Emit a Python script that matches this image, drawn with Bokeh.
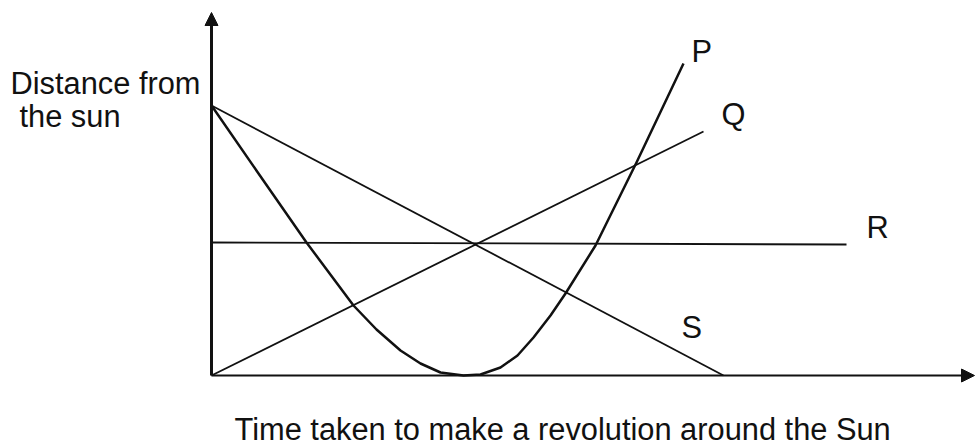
from bokeh.plotting import figure
from bokeh.models import Range1d, Arrow, NormalHead, Label
from bokeh.embed import file_html
from bokeh.resources import INLINE

# ---- data (time taken -> distance from the sun) ----
P_time = [0, 47, 95, 142, 165, 189, 209, 229, 252, 269, 289, 306, 322, 339, 354, 384, 425, 472]
P_dist = [270, 202, 133, 70, 46, 25, 12, 3, 0, 1, 8, 20, 38, 60, 82, 130, 213, 312]
Q_time = [0, 492]
Q_dist = [0, 244]
R_time = [0, 635]
R_dist = [133, 131]
S_time = [0, 512]
S_dist = [270, 0]
curve_names = ["P", "Q", "R", "S"]

x_title = "Time taken to make a revolution around the Sun"
y_title = ["Distance from", "the sun"]

# ---- layout ----
W, H = 975, 447
ox, oy = 211, 375                  # origin inside the canvas (px)
x_end_axis = 763                   # arrow tip of time axis
y_end_axis = 363                   # arrow tip of distance axis

p = figure(width=W, height=H, output_backend="svg", toolbar_location=None,
           x_axis_location=None, y_axis_location=None, min_border=0,
           x_range=Range1d(-ox, W - ox), y_range=Range1d(oy - H, oy))
p.outline_line_color = None
p.grid.visible = False
p.background_fill_color = "white"
p.border_fill_color = "white"

ink = "#111111"
font = "Liberation Sans"
fsize = "30.8px"

# axes with arrow heads
p.add_layout(Arrow(end=NormalHead(size=13, fill_color=ink, line_color=ink),
                   x_start=0, y_start=0, x_end=0, y_end=y_end_axis,
                   line_width=3, line_color=ink))
p.add_layout(Arrow(end=NormalHead(size=13, fill_color=ink, line_color=ink),
                   x_start=0, y_start=0, x_end=x_end_axis, y_end=0,
                   line_width=2, line_color=ink))

# curves
p.line(P_time, P_dist, line_width=2.5, line_color=ink, line_join="round")
p.line(Q_time, Q_dist, line_width=1.8, line_color=ink)
p.line(R_time, R_dist, line_width=1.8, line_color=ink)
p.line(S_time, S_dist, line_width=1.8, line_color=ink)

# curve labels (y = vertical centre of the text)
label_pos = [(480, 324), (510, 261), (655, 148), (470, 48)]
for name, (lx, ly) in zip(curve_names, label_pos):
    p.add_layout(Label(x=lx, y=ly, text=name, text_font=font,
                       text_font_size=fsize, text_color=ink,
                       text_baseline="middle"))

# axis titles
p.add_layout(Label(x=-201, y=292, text=y_title[0], text_font=font,
                   text_font_size=fsize, text_color=ink, text_baseline="middle"))
p.add_layout(Label(x=-192, y=259, text=y_title[1], text_font=font,
                   text_font_size=fsize, text_color=ink, text_baseline="middle"))
p.add_layout(Label(x=23, y=-54, text=x_title, text_font=font,
                   text_font_size=fsize, text_color=ink, text_baseline="middle"))

open("out.html", "w").write(file_html(p, INLINE))
